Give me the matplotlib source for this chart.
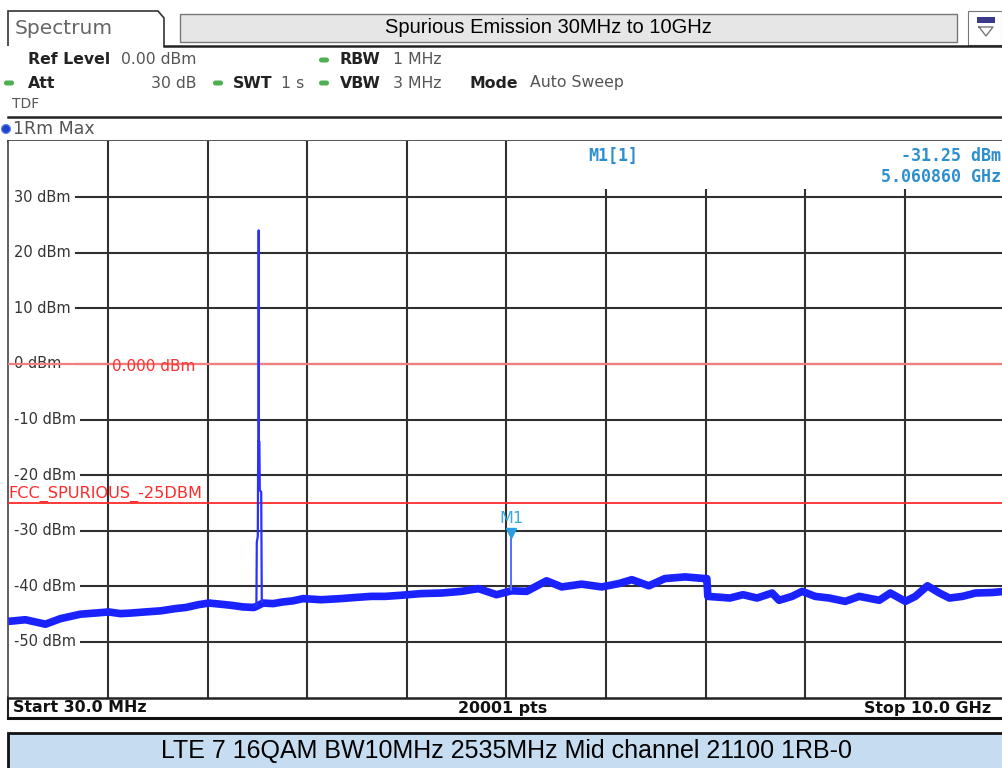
import matplotlib
matplotlib.use("Agg")
import matplotlib.pyplot as plt
from matplotlib.patches import Rectangle, FancyBboxPatch, Circle, Polygon

# ---------------- data ----------------
start_mhz = 30.0
stop_mhz = 10000.0
ref_levels = [30, 20, 10, 0, -10, -20, -30, -40, -50]
ref_labels = ["30 dBm", "20 dBm", "10 dBm", "0 dBm", "-10 dBm", "-20 dBm",
              "-30 dBm", "-40 dBm", "-50 dBm"]
limit_0_dbm = 0.0
limit_fcc_dbm = -25.0

# noise floor (MHz, dBm)
floor_f = [30, 200, 401, 552, 752, 900, 1033, 1150, 1254, 1400, 1555, 1700, 1805,
           1930, 2036, 2150, 2257, 2380, 2487, 2512,
           2578, 2680, 2778, 2880, 2979, 3160, 3360, 3500, 3661, 3800, 3962, 4162,
           4363, 4564, 4734, 4915, 5065, 5216, 5416, 5567, 5767, 5968, 6139, 6269,
           6440, 6600, 6801, 7001, 7020, 7030, 7251, 7382, 7522, 7673, 7743, 7873,
           7974, 8104, 8245, 8405, 8545, 8746, 8856, 9007, 9107, 9228, 9348, 9448,
           9579, 9709, 9879, 10000]
floor_dbm = [-46.3, -46.0, -46.8, -45.8, -45.0, -44.8, -44.6, -44.9, -44.8, -44.6,
             -44.4, -44.0, -43.8, -43.3, -43.0, -43.2, -43.4, -43.7, -43.8, -43.6,
             -43.0, -43.1, -42.8, -42.6, -42.2, -42.4, -42.2, -42.0, -41.8, -41.8,
             -41.6, -41.3, -41.2, -40.9, -40.4, -41.5, -40.8, -40.9, -39.0, -40.1,
             -39.6, -40.1, -39.5, -38.8, -39.9, -38.6, -38.3, -38.6, -38.6, -41.8,
             -42.1, -41.5, -42.1, -41.2, -42.5, -41.8, -40.9, -41.8, -42.1, -42.7,
             -41.8, -42.5, -41.2, -42.7, -41.8, -39.9, -41.2, -42.1, -41.8, -41.2,
             -41.1, -40.9]

# carrier spike around 2535 MHz
carrier_f = [2512, 2516, 2526, 2530, 2533, 2535, 2537, 2542, 2546, 2560, 2566]
carrier_dbm = [-43.5, -32.0, -31.0, -14.0, -14.0, 24.0, -14.0, -14.0, -22.7, -23.0, -42.8]

# marker spike M1
m1_f = [5057.0, 5060.86, 5064.0]
m1_dbm = [-40.6, -31.25, -40.6]
m1_freq = 5060.86
m1_level = -31.25

title_text = "Spurious Emission 30MHz to 10GHz"
caption_text = "LTE 7 16QAM BW10MHz 2535MHz Mid channel 21100 1RB-0"

# ---------------- figure ----------------
W, H = 1003, 768
fig = plt.figure(figsize=(W / 100, H / 100), dpi=100)
fig.patch.set_facecolor("white")

bg = fig.add_axes([0, 0, 1, 1], zorder=0)
bg.set_xlim(0, W)
bg.set_ylim(H, 0)
bg.axis("off")

GRAY = "#555555"
DARK = "#222222"
GREEN = "#4caf50"
CYAN = "#2e8fcf"

# --- tab "Spectrum"
tab = Polygon([[8, 46], [8, 11], [158, 11], [164, 18], [164, 46]], closed=False,
              fill=False, edgecolor="#333333", lw=1.2)
bg.add_patch(tab)
bg.text(15, 28, "Spectrum", fontsize=14.5, color="#666666", va="center", ha="left",
        family="DejaVu Sans")
# --- title box
bg.add_patch(Rectangle((180, 14), 777, 28, facecolor="#e6e6e6", edgecolor="#777777", lw=1.0))
bg.text(548, 27.5, title_text, fontsize=14.5, color="black", ha="center", va="center",
        family="Liberation Sans")
# --- icon
bg.add_patch(Rectangle((968, 11), 34, 34, facecolor="white", edgecolor="#777777", lw=0.8))
bg.add_patch(Rectangle((977, 17), 18, 6, facecolor="#3a3a8a", edgecolor="none"))
bg.plot([979, 993, 986, 979], [27, 27, 36, 27], color="#777777", lw=1)
# header separating lines
bg.plot([164, W], [46, 46], color="#222222", lw=1.8)
bg.plot([8, W], [117, 117], color="#222222", lw=1.8)
bg.plot([8, W], [140.5, 140.5], color="#444444", lw=2.0)

# info rows
def info(x, y, s, bold=False, color=None, size=11.3):
    bg.text(x, y, s, fontsize=size, ha="left", va="center", family="DejaVu Sans",
            fontweight="bold" if bold else "normal",
            color=color if color else (DARK if bold else GRAY))

def dot(x, y, c=GREEN):
    bg.add_patch(FancyBboxPatch((x - 5, y - 2.5), 10, 5, boxstyle="round,pad=0,rounding_size=2.5",
                                facecolor=c, edgecolor="none"))

info(28, 60, "Ref Level", bold=True)
info(121, 60, "0.00 dBm")
dot(324, 60)
info(340, 60, "RBW", bold=True)
info(393, 60, "1 MHz")

dot(9, 83)
info(28, 83, "Att", bold=True)
info(151, 83, "30 dB")
dot(218, 83)
info(233, 83, "SWT", bold=True)
info(281, 83, "1 s")
dot(324, 83)
info(340, 83, "VBW", bold=True)
info(393, 83, "3 MHz")
info(470, 83, "Mode", bold=True)
info(530, 83, "Auto Sweep")
info(12, 104, "TDF", size=10)

bg.add_patch(Circle((6, 129), 4.5, facecolor="#2244cc", edgecolor="#6688ee", lw=0.8))
info(13, 129, "1Rm Max", size=12.5)

# status bar
bg.plot([8, 8], [697, 718], color="#222222", lw=1.5)
bg.plot([8, W], [718, 718], color="#111111", lw=2.2)
sb_font = "DejaVu Sans"
bg.text(13, 708, "Start 30.0 MHz", fontsize=11.4, fontweight="bold", family=sb_font,
        ha="left", va="center", color="#111111")
bg.text(503, 708, "20001 pts", fontsize=11.4, fontweight="bold", family=sb_font,
        ha="center", va="center", color="#111111")
bg.text(991, 708, "Stop 10.0 GHz", fontsize=11.4, fontweight="bold", family=sb_font,
        ha="right", va="center", color="#111111")

# caption box
bg.add_patch(Rectangle((8, 733), W - 8 + 2, 40, facecolor="#c6dcf0", edgecolor="#111111", lw=2))
bg.text(507, 751, caption_text, fontsize=18, family="Liberation Sans", ha="center",
        va="center", color="black")

# ---------------- main plot ----------------
ax_left, ax_right = 8.4, 1004.6
ax_top, ax_bot = 141.4, 697.6
ax = fig.add_axes([ax_left / W, (H - ax_bot) / H, (ax_right - ax_left) / W,
                   (ax_bot - ax_top) / H], zorder=2)
ax.set_xlim(start_mhz, stop_mhz)
ax.set_ylim(-60, 40)
ax.set_xticks([])
ax.set_yticks([])
for side in ["top", "right"]:
    ax.spines[side].set_visible(False)
ax.spines["left"].set_color("#444444")
ax.spines["left"].set_linewidth(1.2)
ax.spines["bottom"].set_color("#222222")
ax.spines["bottom"].set_linewidth(1.8)

span = stop_mhz - start_mhz
for k in range(1, 10):
    ax.axvline(start_mhz + k * span / 10, color="#303030", lw=1.5, zorder=1)
label_ends = {30: 0.068, 20: 0.068, 10: 0.068, 0: 0.068, -10: 0.073, -20: 0.073,
              -30: 0.073, -40: 0.073, -50: 0.073}
for lvl, lab in zip(ref_levels, ref_labels):
    ax.axhline(lvl, xmin=label_ends[lvl], xmax=1.0, color="#303030", lw=1.5, zorder=1)
    ax.text(0.006, lvl, lab, transform=ax.get_yaxis_transform(), fontsize=10.5,
            color="#333333", ha="left", va="center", family="DejaVu Sans", zorder=3)

# marker readout area (white box hiding grid)
ax.add_patch(Rectangle((0.555, 31.4), 0.445, 9, transform=ax.get_yaxis_transform(),
                       facecolor="white", edgecolor="none", zorder=2))
ax.text(0.582, 37.3, "M1[1]", transform=ax.get_yaxis_transform(), fontsize=12,
        color=CYAN, fontweight="bold", family="DejaVu Sans Mono", ha="left", va="center", zorder=3)
ax.text(0.996, 37.3, "%.2f dBm" % m1_level, transform=ax.get_yaxis_transform(), fontsize=12,
        color=CYAN, fontweight="bold", family="DejaVu Sans Mono", ha="right", va="center", zorder=3)
ax.text(0.996, 33.6, "%.6f GHz" % (m1_freq / 1000), transform=ax.get_yaxis_transform(),
        fontsize=12, color=CYAN, fontweight="bold", family="DejaVu Sans Mono",
        ha="right", va="center", zorder=3)

# limit lines
ax.axhline(limit_0_dbm, color="#f08080", lw=1.6, zorder=4)
ax.text(0.104, limit_0_dbm - 0.4, "0.000 dBm", transform=ax.get_yaxis_transform(),
        fontsize=11, color="#ff3030", ha="left", va="center", family="DejaVu Sans", zorder=4)
ax.axhline(limit_fcc_dbm, color="#ff2a2a", lw=1.3, zorder=4)
ax.text(0.0, limit_fcc_dbm + 1.7, "FCC_SPURIOUS_-25DBM", transform=ax.get_yaxis_transform(),
        fontsize=11.6, color="#ff2a2a", ha="left", va="center", family="DejaVu Sans", zorder=4)

# trace
ax.plot(floor_f, floor_dbm, color="#1a22ff", lw=5.5, solid_joinstyle="round",
        solid_capstyle="butt", zorder=5)
ax.plot(carrier_f, carrier_dbm, color="#2a32ff", lw=1.6, zorder=5)
ax.plot(m1_f, m1_dbm, color="#5a70ff", lw=1.0, zorder=5)

# marker M1
ax.plot([m1_freq], [m1_level + 0.9], marker="v", markersize=7.5, color="#2a9ee0",
        markeredgecolor="#2a9ee0", zorder=6)
ax.text(m1_freq, m1_level + 3.4, "M1", fontsize=11.5, color="#3aa8e6", ha="center",
        va="center", family="DejaVu Sans", zorder=6)

fig.savefig("out.png", dpi=100)
